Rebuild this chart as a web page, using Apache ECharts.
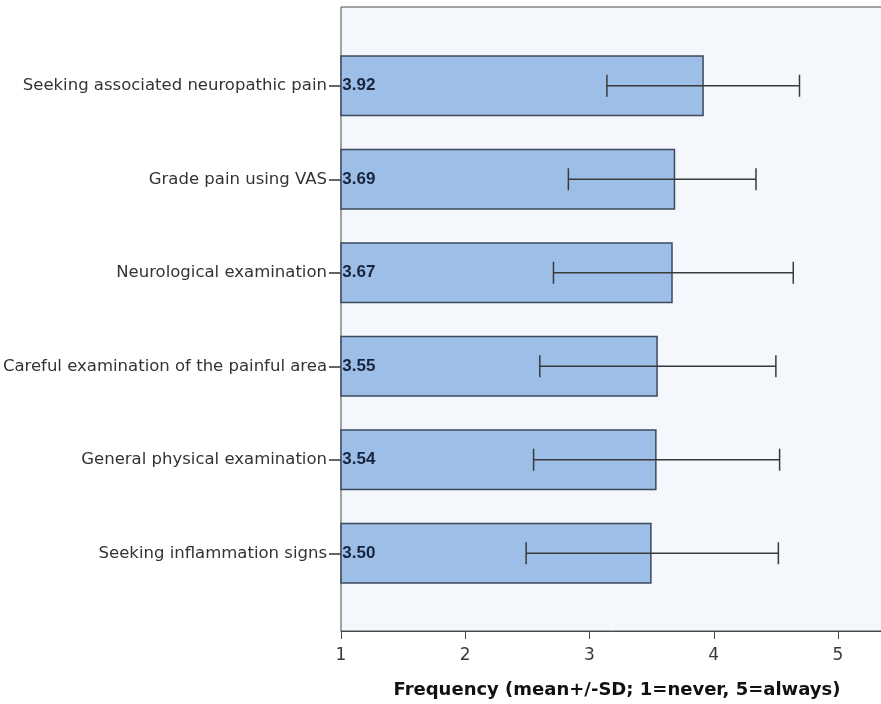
<!DOCTYPE html>
<html>
<head>
<meta charset="utf-8">
<script src="https://cdn.jsdelivr.net/npm/echarts@6/dist/echarts.min.js"></script>
<style>
  html, body { margin: 0; padding: 0; background: #ffffff; }
  #chart { width: 881px; height: 704px; }
</style>
</head>
<body>
<div id="chart"></div>
<script>
// categories top to bottom
const categories = [
  "Seeking associated neuropathic pain",
  "Grade pain using VAS",
  "Neurological examination",
  "Careful examination of the painful area",
  "General physical examination",
  "Seeking inflammation signs"
];
const means = [3.92, 3.69, 3.67, 3.55, 3.54, 3.50];
// error bar ends (mean -/+ SD)
const lows = [3.14, 2.83, 2.71, 2.60, 2.55, 2.49];
const highs = [4.69, 4.34, 4.64, 4.50, 4.53, 4.52];
const xTicks = [1, 2, 3, 4, 5];

const FONT = "DejaVu Sans, sans-serif";
const NUM_FONT = "Liberation Sans, Arial, sans-serif";
const LINE = "#4a4a4a";
// plot runs past the right edge of the picture
const PLOT_W = 560;
const X_MIN = 1;
const X_MAX = 1 + PLOT_W / 124.25;

const errData = categories.map((c, i) => [i, lows[i], highs[i]]);

const chart = echarts.init(document.getElementById("chart"), null, { renderer: "canvas" });

chart.setOption({
  animation: false,
  backgroundColor: "#ffffff",
  grid: [
    // frame + background
    {
      left: 341, width: PLOT_W, top: 7, bottom: 73,
      outerBoundsMode: "none", containLabel: false,
      show: true, backgroundColor: "#f4f7fb",
      borderColor: LINE, borderWidth: 1
    },
    // bars
    {
      left: 341, width: PLOT_W, top: 39, bottom: 104,
      outerBoundsMode: "none", containLabel: false
    }
  ],
  xAxis: [
    {
      gridIndex: 0,
      type: "value",
      min: X_MIN,
      max: X_MAX,
      interval: 1,
      axisLine: { show: true, lineStyle: { color: LINE, width: 1 } },
      axisTick: { show: true, length: 8, lineStyle: { color: LINE } },
      axisLabel: {
        color: "#3a3a3a", fontSize: 17, fontFamily: FONT, margin: 16,
        showMaxLabel: false,
        formatter: (v) => (xTicks.includes(v) ? String(v) : "")
      },
      splitLine: { show: false },
      name: "Frequency (mean+/-SD; 1=never, 5=always)",
      nameLocation: "start",
      nameGap: 0,
      nameTextStyle: {
        color: "#111", fontSize: 18, fontWeight: "bold", fontFamily: FONT,
        align: "center", verticalAlign: "top",
        padding: [50, 0, 0, 552]
      }
    },
    {
      gridIndex: 1,
      type: "value",
      min: X_MIN,
      max: X_MAX,
      show: false
    }
  ],
  yAxis: [
    {
      gridIndex: 0,
      type: "value",
      min: 0, max: 1,
      axisLine: { show: false },
      axisTick: { show: false },
      axisLabel: { show: false },
      splitLine: { show: false }
    },
    {
      gridIndex: 1,
      type: "category",
      data: categories,
      inverse: true,
      axisLine: { show: false },
      axisTick: { show: true, alignWithLabel: true, length: 12, lineStyle: { color: "#333", width: 1.5 } },
      axisLabel: { color: "#333", fontSize: 16.5, fontFamily: FONT, margin: 14 },
      splitLine: { show: false }
    }
  ],
  series: [
    {
      type: "bar",
      xAxisIndex: 1,
      yAxisIndex: 1,
      data: means,
      barWidth: 61,
      itemStyle: { color: "#9dbee7", borderColor: "#3c4a5c", borderWidth: 1.5 },
      label: {
        show: true,
        position: "insideLeft",
        distance: 2,
        color: "#17243d",
        fontSize: 17,
        fontWeight: "bold",
        fontFamily: NUM_FONT,
        formatter: (p) => p.value.toFixed(2)
      },
      z: 2
    },
    {
      type: "custom",
      xAxisIndex: 1,
      yAxisIndex: 1,
      data: errData,
      encode: { x: [1, 2], y: 0 },
      z: 3,
      renderItem: (params, api) => {
        const idx = api.value(0);
        const lo = api.coord([api.value(1), idx]);
        const hi = api.coord([api.value(2), idx]);
        const cap = 11;
        const style = { stroke: "#3a3a3a", lineWidth: 1.5 };
        return {
          type: "group",
          children: [
            { type: "line", shape: { x1: lo[0], y1: lo[1], x2: hi[0], y2: hi[1] }, style },
            { type: "line", shape: { x1: lo[0], y1: lo[1] - cap, x2: lo[0], y2: lo[1] + cap }, style },
            { type: "line", shape: { x1: hi[0], y1: hi[1] - cap, x2: hi[0], y2: hi[1] + cap }, style }
          ]
        };
      }
    }
  ]
});
</script>
</body>
</html>
